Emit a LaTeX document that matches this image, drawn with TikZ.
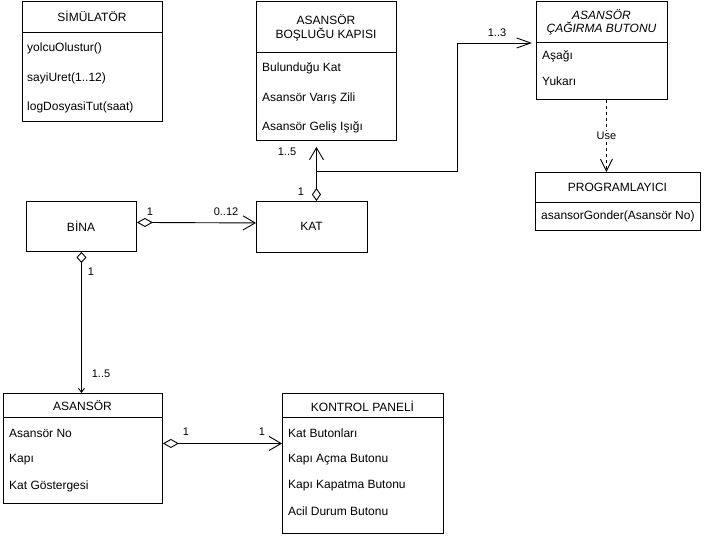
\documentclass[tikz,border=0pt]{standalone}
\usepackage{fontspec}
\setmainfont{Liberation Sans}
\usetikzlibrary{arrows.meta}
\begin{document}
\begin{tikzpicture}[x=1pt,y=-1pt,
  every node/.style={font=\fontsize{12}{13.5}\selectfont, inner sep=0pt},
  umlbox/.style={draw, line width=0.9pt, anchor=north west},
  divider/.style={line width=0.9pt},
  attr/.style={anchor=west},
  ttl/.style={align=center},
  mult/.style={font=\fontsize{11}{13}\selectfont},
  link/.style={line width=0.9pt},
  opentip/.style={-{Straight Barb[length=12pt,width=14pt]}},
  agg/.style={link, {Diamond[open,length=16pt,width=9pt]}-{Straight Barb[length=12pt,width=14pt]}},
]
\fill[white] (0,0) rectangle (709,536);
\useasboundingbox (0,0) rectangle (709,536);

% SIMULATOR class
\node[umlbox, minimum width=140pt, minimum height=120pt] (sim) at (22,1) {};
\draw[divider] (22,32) -- (162,32);
\node (simT) at (92,16) {SİMÜLATÖR};
\node[attr] (sim1) at (27,48) {yolcuOlustur()};
\node[attr] (sim2) at (27,78) {sayiUret(1..12)};
\node[attr] (sim3) at (27,107) {logDosyasiTut(saat)};

% Shaft door class
\node[umlbox, minimum width=140pt, minimum height=139pt] (bosluk) at (256,1) {};
\draw[divider] (256,52) -- (396,52);
\node[ttl] (boslukT) at (326,27.5) {ASANSÖR\\BOŞLUĞU KAPISI};
\node[attr] (bos1) at (262,68) {Bulunduğu Kat};
\node[attr] (bos2) at (262,98) {Asansör Varış Zili};
\node[attr] (bos3) at (262,127) {Asansör Geliş Işığı};

% Call button class
\node[umlbox, minimum width=131pt, minimum height=98pt] (cagir) at (536,1) {};
\draw[divider] (536,42) -- (667,42);
\node[ttl, font=\fontsize{12}{13.5}\selectfont\itshape] (cagirT) at (601.5,22) {ASANSÖR\\ÇAĞIRMA BUTONU};
\node[attr] (cag1) at (542,56) {Aşağı};
\node[attr] (cag2) at (542,81) {Yukarı};

% Scheduler class
\node[umlbox, minimum width=165pt, minimum height=58pt] (prog) at (535,172) {};
\draw[divider] (535,202) -- (700,202);
\node (progT) at (617.5,187) {PROGRAMLAYICI};
\node[attr] (prog1) at (541,216) {asansorGonder(Asansör No)};

% Building and floor
\node[umlbox, minimum width=110pt, minimum height=50pt] (bina) at (26,201) {};
\node (binaT) at (81,226) {BİNA};
\node[umlbox, minimum width=111pt, minimum height=51pt] (kat) at (256,201) {};
\node (katT) at (311.5,226.5) {KAT};

% Elevator class
\node[umlbox, minimum width=159pt, minimum height=110pt] (asansor) at (3,393) {};
\draw[divider] (3,417) -- (162,417);
\node (asansorT) at (82.5,406) {ASANSÖR};
\node[attr] (as1) at (9,433) {Asansör No};
\node[attr] (as2) at (9,460) {Kapı};
\node[attr] (as3) at (9,486) {Kat Göstergesi};

% Control panel class
\node[umlbox, minimum width=161pt, minimum height=140pt] (kontrol) at (282,393) {};
\draw[divider] (282,417) -- (443,417);
\node (kontrolT) at (362.5,406) {KONTROL PANELİ};
\node[attr] (kp1) at (288,433) {Kat Butonları};
\node[attr] (kp2) at (288,460) {Kapı Açma Butonu};
\node[attr] (kp3) at (288,486) {Kapı Kapatma Butonu};
\node[attr] (kp4) at (288,511) {Acil Durum Butonu};

% Building -- floor
\draw[agg] ([yshift=4pt]bina.east) -- ([yshift=4pt]kat.west);
\node[mult] (m1) at (150,212) {1};
\node[mult] (m2) at (226,212) {0..12};

% Building -- elevator
\draw[link, {Diamond[open,length=11pt,width=10pt]}-{Straight Barb[length=4pt,width=6pt]}]
  (bina.south) -- (bina.south |- asansor.north);
\node[mult] (m3) at (91,272) {1};
\node[mult] (m4) at (101,374) {1..5};

% Elevator -- control panel
\draw[agg] ([yshift=5pt]asansor.east) -- ([yshift=5pt]asansor.east -| kontrol.west);
\node[mult] (m5) at (186,432) {1};
\node[mult] (m6) at (262,432) {1};

% Floor -- shaft door
\draw[link, {Diamond[open,length=13pt,width=9pt]}-{Straight Barb[length=12pt,width=14pt]}, shorten >=6pt]
  ([xshift=4.5pt]kat.north) -- ([xshift=4.5pt]kat.north |- bosluk.south);
\node[mult] (m7) at (301,192) {1};
\node[mult] (m8) at (287,152) {1..5};

% Floor -- call button
\coordinate (j) at (316,171);
\coordinate (k) at (457,43);
\draw[link, -{Straight Barb[length=14pt,width=10pt]}, shorten >=4pt]
  (j) -| (k) -- (k -| cagir.west);
\node[mult] (m9) at (497,33) {1..3};

% Call button uses scheduler
\draw[link, dash pattern=on 3pt off 3pt, -{Straight Barb[length=12pt,width=12pt]}]
  ([xshift=4.5pt]cagir.south) -- ([xshift=4.5pt]cagir.south |- prog.north)
  node[pos=0.5, fill=white, inner sep=1pt, mult] (use) {Use};
\end{tikzpicture}
\end{document}
